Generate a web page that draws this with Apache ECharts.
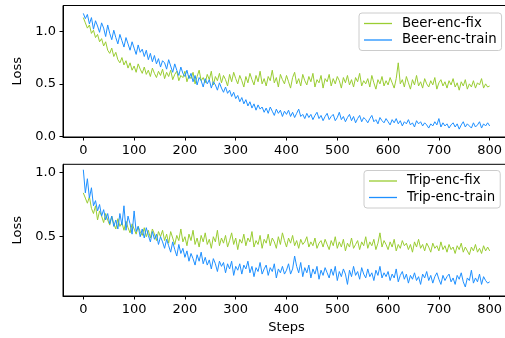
<!DOCTYPE html>
<html>
<head>
<meta charset="utf-8">
<script src="https://cdn.jsdelivr.net/npm/echarts@6/dist/echarts.min.js"></script>
<style>
html,body{margin:0;padding:0;background:#fff;}
#c{width:505px;height:338px;}
</style>
</head>
<body>
<div id="c"></div>
<script>
// Points sampled every 4 steps, 0..800
const stepSize = 4;
const xTicks = [0,100,200,300,400,500,600,700,800];
const yTicksTop = [0,0.5,1.0];
const yTicksBottom = [0.5,1.0];

const beerFix = [
1.13,1.08,1.03,1.06,0.98,1.01,0.94,0.97,0.90,0.93,
0.86,0.90,0.82,0.79,0.84,0.76,0.80,0.73,0.70,0.75,
0.68,0.72,0.65,0.70,0.63,0.67,0.61,0.69,0.64,0.60,
0.66,0.59,0.63,0.57,0.65,0.60,0.56,0.62,0.58,0.64,
0.55,0.61,0.57,0.63,0.54,0.59,0.62,0.53,0.58,0.56,
0.62,0.52,0.58,0.55,0.61,0.50,0.57,0.63,0.53,0.56,
0.51,0.59,0.54,0.62,0.49,0.57,0.53,0.60,0.51,0.58,
0.54,0.48,0.59,0.52,0.61,0.55,0.50,0.58,0.53,0.47,
0.57,0.51,0.60,0.54,0.49,0.58,0.52,0.62,0.50,0.55,
0.48,0.57,0.53,0.63,0.51,0.56,0.47,0.59,0.54,0.50,
0.58,0.52,0.46,0.56,0.61,0.50,0.55,0.48,0.59,0.53,
0.49,0.57,0.52,0.60,0.47,0.54,0.51,0.58,0.46,0.55,
0.52,0.59,0.48,0.55,0.50,0.57,0.53,0.46,0.56,0.51,
0.58,0.49,0.54,0.47,0.56,0.52,0.60,0.48,0.53,0.50,
0.55,0.47,0.58,0.51,0.45,0.54,0.50,0.57,0.48,0.53,
0.49,0.56,0.51,0.46,0.55,0.70,0.50,0.54,0.47,0.57,
0.51,0.45,0.54,0.49,0.58,0.48,0.52,0.46,0.55,0.50,
0.47,0.53,0.49,0.56,0.45,0.51,0.54,0.48,0.52,0.46,
0.53,0.49,0.55,0.47,0.51,0.44,0.52,0.48,0.54,0.45,
0.50,0.47,0.53,0.46,0.51,0.49,0.55,0.46,0.50,0.47,
0.48];

const beerTrain = [
1.17,1.12,1.16,1.07,1.13,1.02,1.10,1.05,0.99,1.08,
1.03,0.95,1.06,0.98,0.92,1.01,0.94,0.88,0.97,0.91,
0.85,0.94,0.88,0.82,0.90,0.84,0.78,0.87,0.80,0.83,
0.76,0.82,0.73,0.79,0.71,0.77,0.69,0.74,0.66,0.72,
0.70,0.64,0.73,0.67,0.61,0.69,0.63,0.58,0.66,0.60,
0.57,0.63,0.55,0.60,0.52,0.58,0.49,0.56,0.53,0.47,
0.55,0.50,0.54,0.46,0.52,0.49,0.44,0.51,0.46,0.42,
0.47,0.41,0.44,0.38,0.42,0.36,0.39,0.33,0.37,0.31,
0.35,0.29,0.33,0.27,0.31,0.25,0.30,0.26,0.28,0.23,
0.27,0.22,0.28,0.24,0.20,0.26,0.22,0.25,0.19,0.24,
0.21,0.25,0.19,0.23,0.18,0.22,0.26,0.19,0.21,0.17,
0.22,0.18,0.21,0.16,0.20,0.23,0.17,0.20,0.15,0.19,
0.22,0.16,0.19,0.21,0.15,0.18,0.23,0.16,0.19,0.14,
0.18,0.21,0.15,0.19,0.13,0.17,0.20,0.14,0.18,0.16,
0.13,0.17,0.20,0.14,0.16,0.12,0.18,0.15,0.13,0.17,
0.14,0.11,0.16,0.13,0.17,0.12,0.15,0.10,0.14,0.12,
0.16,0.11,0.13,0.09,0.15,0.12,0.14,0.10,0.13,0.11,
0.08,0.12,0.10,0.14,0.11,0.17,0.09,0.13,0.10,0.12,
0.08,0.11,0.13,0.09,0.12,0.07,0.11,0.14,0.09,0.12,
0.10,0.08,0.13,0.09,0.11,0.14,0.08,0.12,0.10,0.13,
0.10];

const tripFix = [
0.84,0.80,0.76,0.81,0.72,0.68,0.74,0.63,0.70,0.66,
0.61,0.68,0.63,0.59,0.66,0.60,0.56,0.64,0.58,0.61,
0.55,0.62,0.57,0.53,0.60,0.56,0.52,0.58,0.54,0.51,
0.57,0.50,0.55,0.49,0.56,0.52,0.47,0.54,0.50,0.55,
0.47,0.52,0.45,0.54,0.49,0.44,0.51,0.47,0.56,0.46,
0.50,0.43,0.52,0.47,0.55,0.44,0.49,0.42,0.51,0.46,
0.53,0.44,0.48,0.41,0.50,0.46,0.55,0.43,0.49,0.45,
0.51,0.42,0.47,0.53,0.44,0.49,0.40,0.48,0.45,0.52,
0.43,0.49,0.46,0.54,0.42,0.47,0.44,0.51,0.41,0.48,
0.45,0.52,0.43,0.49,0.46,0.41,0.50,0.44,0.53,0.47,
0.42,0.49,0.45,0.51,0.43,0.47,0.41,0.48,0.44,0.46,
0.50,0.42,0.46,0.43,0.49,0.41,0.45,0.47,0.42,0.48,
0.44,0.40,0.47,0.43,0.50,0.41,0.46,0.42,0.48,0.39,
0.45,0.42,0.49,0.41,0.44,0.47,0.40,0.46,0.43,0.50,
0.41,0.46,0.43,0.48,0.40,0.45,0.53,0.42,0.47,0.44,
0.40,0.46,0.42,0.48,0.39,0.44,0.41,0.47,0.43,0.45,
0.40,0.44,0.38,0.46,0.42,0.48,0.41,0.44,0.39,0.45,
0.42,0.38,0.45,0.41,0.43,0.39,0.46,0.40,0.43,0.38,
0.44,0.40,0.42,0.37,0.43,0.40,0.45,0.38,0.42,0.39,
0.36,0.42,0.39,0.44,0.38,0.41,0.37,0.43,0.39,0.42,
0.39];

const tripTrain = [
1.02,0.84,0.95,0.80,0.88,0.74,0.78,0.70,0.75,0.66,
0.71,0.63,0.68,0.60,0.66,0.58,0.63,0.56,0.68,0.59,
0.74,0.55,0.66,0.60,0.52,0.70,0.54,0.58,0.50,0.56,
0.49,0.57,0.51,0.46,0.54,0.48,0.52,0.44,0.50,0.46,
0.41,0.48,0.43,0.38,0.46,0.40,0.35,0.44,0.37,0.41,
0.34,0.39,0.31,0.37,0.33,0.28,0.36,0.31,0.38,0.29,
0.34,0.28,0.32,0.25,0.33,0.29,0.23,0.31,0.27,0.30,
0.22,0.29,0.25,0.31,0.20,0.27,0.24,0.29,0.21,0.28,
0.25,0.31,0.22,0.27,0.19,0.26,0.23,0.30,0.21,0.25,
0.28,0.20,0.26,0.23,0.29,0.18,0.25,0.22,0.27,0.21,
0.24,0.29,0.21,0.25,0.35,0.27,0.22,0.30,0.19,0.26,
0.22,0.28,0.18,0.25,0.21,0.27,0.17,0.24,0.20,0.26,
0.22,0.18,0.25,0.20,0.27,0.16,0.23,0.19,0.25,0.21,
0.13,0.24,0.19,0.27,0.20,0.23,0.17,0.26,0.21,0.18,
0.25,0.19,0.22,0.16,0.24,0.20,0.27,0.18,0.22,0.19,
0.23,0.16,0.21,0.18,0.25,0.15,0.20,0.23,0.17,0.21,
0.14,0.20,0.17,0.22,0.16,0.19,0.13,0.21,0.18,0.23,
0.16,0.20,0.14,0.19,0.22,0.17,0.13,0.20,0.16,0.19,
0.21,0.15,0.18,0.13,0.20,0.17,0.22,0.15,0.11,0.18,
0.16,0.24,0.14,0.18,0.15,0.21,0.13,0.19,0.16,0.14,
0.15];

const GREEN = '#9acd32';
const BLUE = '#1e90ff';
const FONT = 'DejaVu Sans';
const FS = 13;
const LFS = 13.3;

function pairs(arr){ return arr.map((v,i)=>[i*stepSize, v]); }

function xAxisFor(gi, showName){
  return {
    type:'value', gridIndex:gi, min:-40, max:840,
    splitLine:{show:false},
    axisLine:{show:true, onZero:false, lineStyle:{color:'#000', width:1}},
    axisTick:{show:true, length:3.5, lineStyle:{color:'#000', width:1}, customValues:xTicks},
    axisLabel:{color:'#000', fontFamily:FONT, fontSize:FS, margin:7, customValues:xTicks},
    name: showName ? 'Steps' : '',
    nameLocation:'middle', nameGap:25,
    nameTextStyle:{color:'#000', fontFamily:FONT, fontSize:FS}
  };
}
function yAxisFor(gi, min, max, ticks){
  return {
    type:'value', gridIndex:gi, min:min, max:max,
    splitLine:{show:false},
    axisLine:{show:true, onZero:false, lineStyle:{color:'#000', width:1}},
    axisTick:{show:true, length:3.5, lineStyle:{color:'#000', width:1}, customValues:ticks},
    axisLabel:{color:'#000', fontFamily:FONT, fontSize:FS, margin:7, customValues:ticks,
      formatter:(v)=>v.toFixed(1)},
    name:'Loss', nameLocation:'middle', nameGap:37, nameRotate:90,
    nameTextStyle:{color:'#000', fontFamily:FONT, fontSize:FS}
  };
}
function legendFor(names, left, top){
  return {
    orient:'vertical', left:left, top:top,
    data:names,
    icon:'rect', itemWidth:28, itemHeight:1.3, itemGap:3.5,
    padding:[4,5,4,5],
    borderColor:'#cccccc', borderWidth:1, borderRadius:3,
    backgroundColor:'rgba(255,255,255,0.8)',
    textStyle:{color:'#000', fontFamily:FONT, fontSize:LFS, padding:[0,0,0,5]}
  };
}
function line(name, data, color, xi){
  return {
    name:name, type:'line', xAxisIndex:xi, yAxisIndex:xi,
    data:pairs(data), showSymbol:false, symbol:'none',
    lineStyle:{color:color, width:1}, itemStyle:{color:color},
    animation:false
  };
}

const chart = echarts.init(document.getElementById('c'), null, {renderer:'canvas'});
chart.setOption({
  animation:false,
  backgroundColor:'#fff',
  grid:[
    {left:63, top:5.5, width:447, height:131.5, show:true, borderColor:'#000', borderWidth:1,
     backgroundColor:'transparent', containLabel:false, outerBoundsMode:'none'},
    {left:63, top:164.3, width:447, height:131.7, show:true, borderColor:'#000', borderWidth:1,
     backgroundColor:'transparent', containLabel:false, outerBoundsMode:'none'}
  ],
  xAxis:[xAxisFor(0,false), xAxisFor(1,true)],
  yAxis:[yAxisFor(0,-0.005,1.245,yTicksTop), yAxisFor(1,0.04,1.062,yTicksBottom)],
  legend:[
    legendFor(['Beer-enc-fix','Beer-enc-train'], 359, 13),
    legendFor(['Trip-enc-fix','Trip-enc-train'], 364, 170.5)
  ],
  series:[
    line('Beer-enc-fix', beerFix, GREEN, 0),
    line('Beer-enc-train', beerTrain, BLUE, 0),
    line('Trip-enc-fix', tripFix, GREEN, 1),
    line('Trip-enc-train', tripTrain, BLUE, 1)
  ]
});
</script>
</body>
</html>
